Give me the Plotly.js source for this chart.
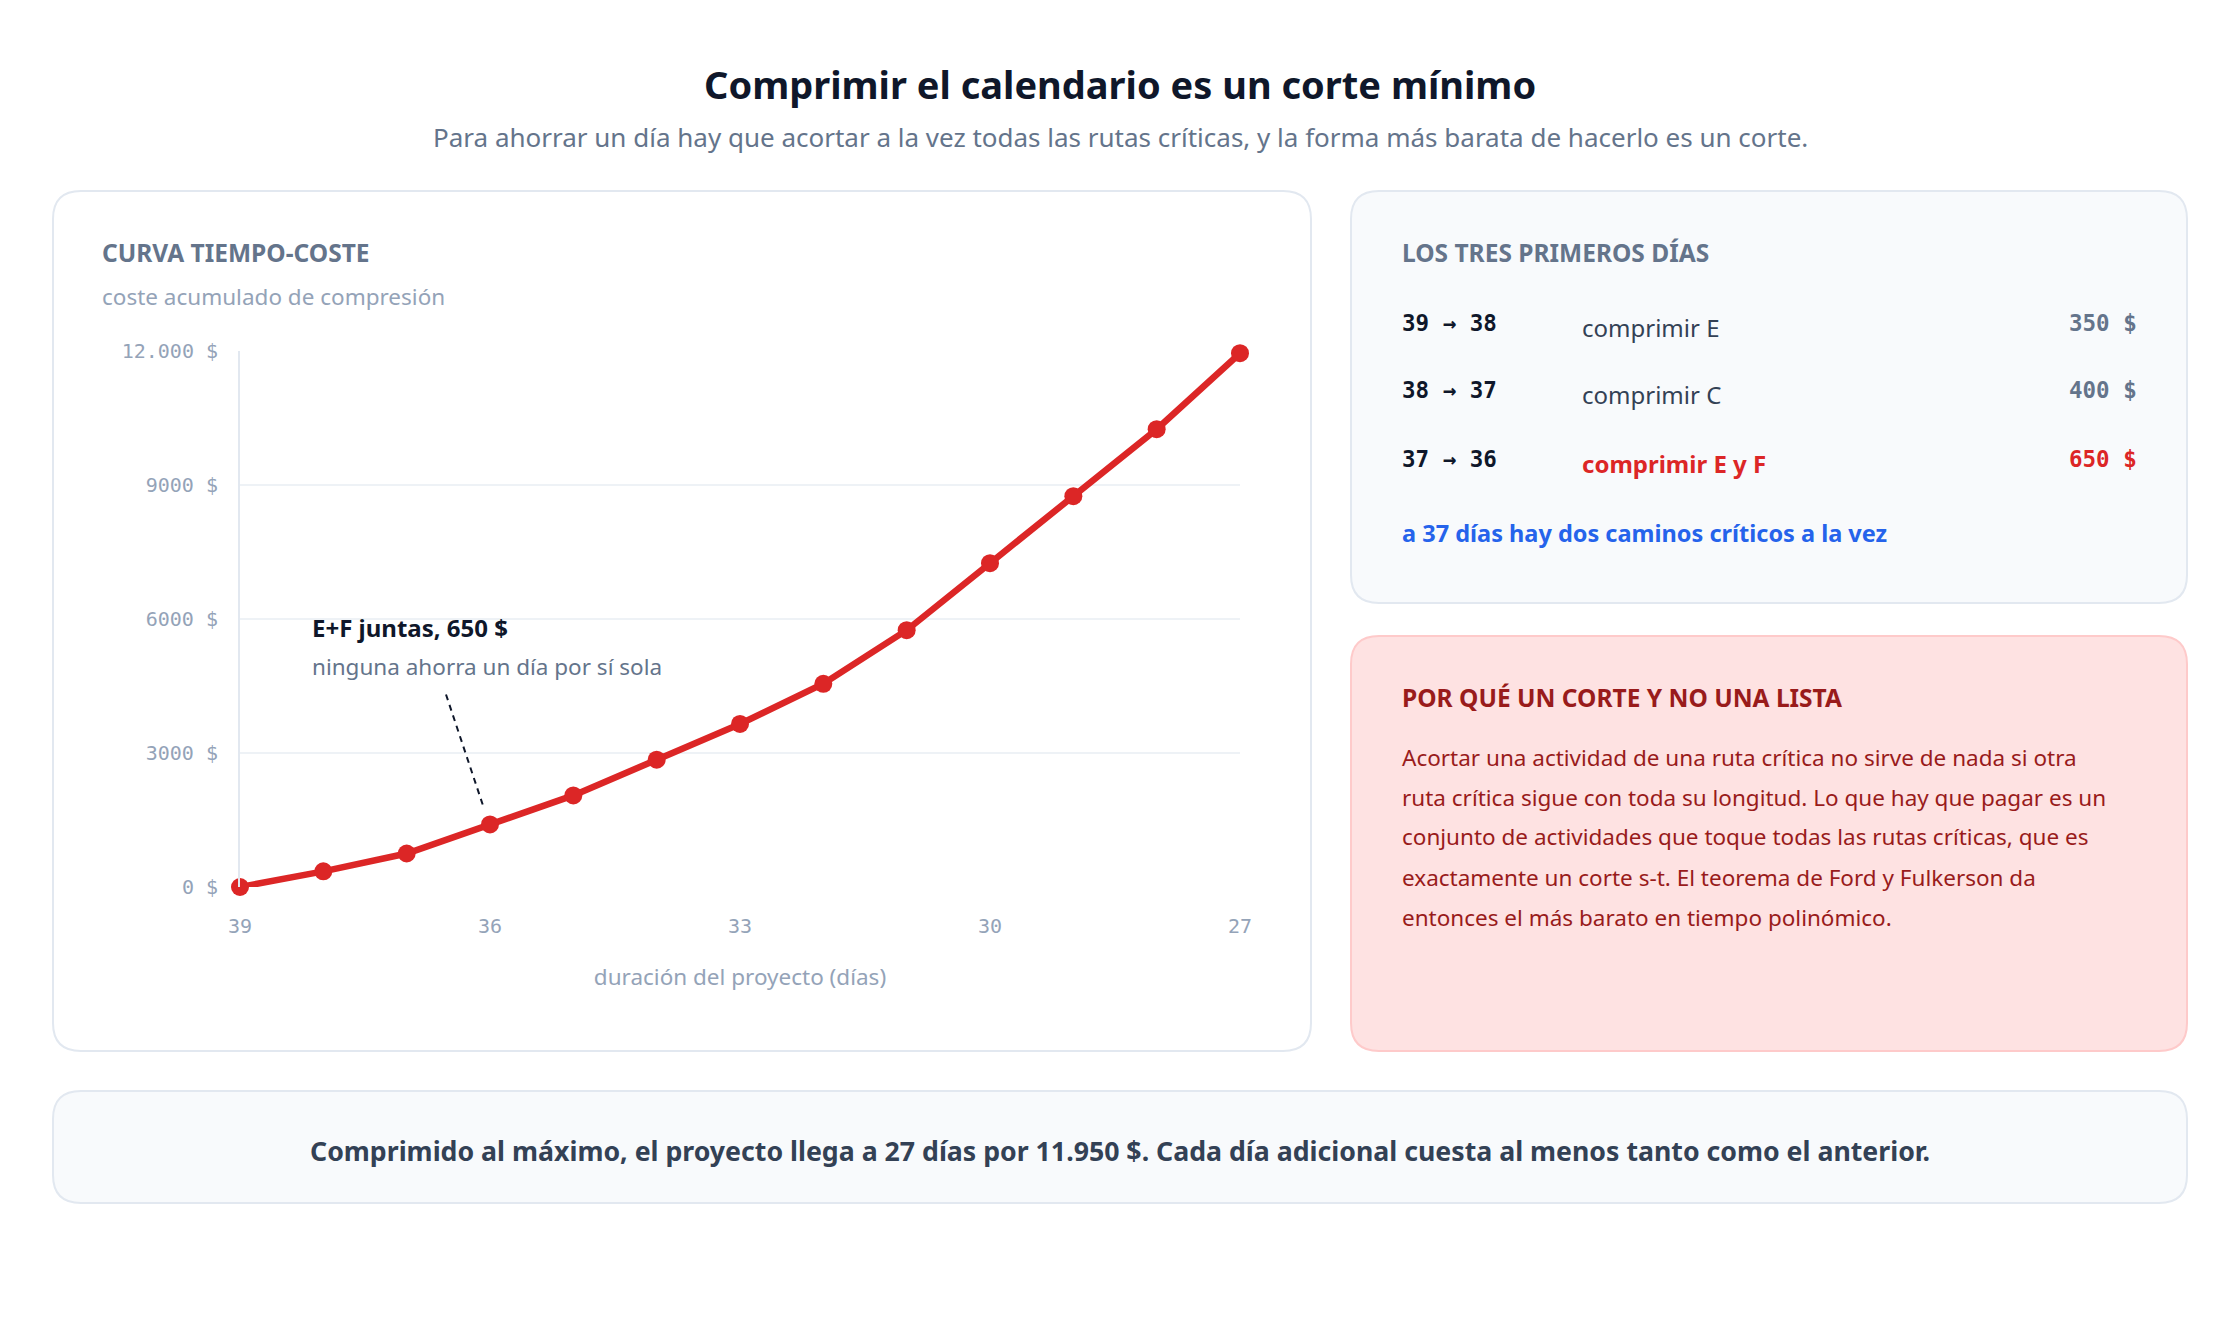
<!DOCTYPE html>
<html><head><meta charset="utf-8">
<script src="https://cdn.plot.ly/plotly-3.0.1.min.js"></script>
<style>html,body{margin:0;padding:0;background:#fff}#chart{width:2240px;height:1320px}</style>
</head><body><div id="chart"></div>
<script>
// ---- data ----
const days = [39,38,37,36,35,34,33,32,31,30,29,28,27];
const cumCost = [0,350,750,1400,2050,2850,3650,4550,5750,7250,8750,10250,11950];
const xTickVals = [39,36,33,30,27];
const yTickVals = [0,3000,6000,9000,12000];
const yTickText = ['0 $','3000 $','6000 $','9000 $','12.000 $'];
const stepLabels = ['39 → 38','38 → 37','37 → 36'];
const stepActions = ['comprimir E','comprimir C','comprimir E y F'];
const stepCosts = ['350 $','400 $','650 $'];
const paragraphLines = [
 'Acortar una actividad de una ruta crítica no sirve de nada si otra',
 'ruta crítica sigue con toda su longitud. Lo que hay que pagar es un',
 'conjunto de actividades que toque todas las rutas críticas, que es',
 'exactamente un corte s-t. El teorema de Ford y Fulkerson da',
 'entonces el más barato en tiempo polinómico.'
];
const highlightDay = 36;

// ---- helpers ----
const W = 2240, H = 1320;
const px = x => x / W;
const py = y => 1 - y / H;
const SANS = '"Noto Sans", "Open Sans", sans-serif';
const MONO = '"DejaVu Sans Mono", monospace';

function roundRect(x0, y0, x1, y1, r, fill, stroke) {
  const X = v => px(v), Y = v => py(v);
  const p = `M${X(x0+r)},${Y(y0)} L${X(x1-r)},${Y(y0)} Q${X(x1)},${Y(y0)} ${X(x1)},${Y(y0+r)} ` +
            `L${X(x1)},${Y(y1-r)} Q${X(x1)},${Y(y1)} ${X(x1-r)},${Y(y1)} ` +
            `L${X(x0+r)},${Y(y1)} Q${X(x0)},${Y(y1)} ${X(x0)},${Y(y1-r)} ` +
            `L${X(x0)},${Y(y0+r)} Q${X(x0)},${Y(y0)} ${X(x0+r)},${Y(y0)} Z`;
  return {type:'path', xref:'paper', yref:'paper', path:p, fillcolor:fill,
          line:{color:stroke, width:2}, layer:'below'};
}

function txt(x, y, text, size, color, opts) {
  return Object.assign({xref:'paper', yref:'paper', x:px(x), y:py(y), text:text,
    showarrow:false, xanchor:'left', yanchor:'middle',
    font:{family:SANS, size:size, color:color}}, opts || {});
}

const annotations = [
  txt(1120, 84, '<b>Comprimir el calendario es un corte mínimo</b>', 38, '#0f172a', {xanchor:'center'}),
  txt(1120, 137, 'Para ahorrar un día hay que acortar a la vez todas las rutas críticas, y la forma más barata de hacerlo es un corte.', 26, '#64748b', {xanchor:'center'}),
  txt(100, 253, '<b>CURVA TIEMPO-COSTE</b>', 24.5, '#64748b'),
  txt(100, 296, 'coste acumulado de compresión', 22.5, '#94a3b8'),
  txt(310, 627, '<b>E+F juntas, 650 $</b>', 24, '#0f172a'),
  txt(310, 667, 'ninguna ahorra un día por sí sola', 22.5, '#64748b'),
  txt(1400, 253, '<b>LOS TRES PRIMEROS DÍAS</b>', 24.5, '#64748b'),
  txt(1400, 533, '<b>a 37 días hay dos caminos críticos a la vez</b>', 23.5, '#2563eb'),
  txt(1400, 697, '<b>POR QUÉ UN CORTE Y NO UNA LISTA</b>', 24.5, '#991b1b'),
  txt(1120, 1150, '<b>Comprimido al máximo, el proyecto llega a 27 días por 11.950 $. Cada día adicional cuesta al menos tanto como el anterior.</b>', 26.7, '#334155', {xanchor:'center'})
];
const rowY = [323, 390, 459];
stepLabels.forEach((s, i) => {
  const hot = i === 2;
  annotations.push(txt(1400, rowY[i], '<b>' + s + '</b>', 22.5, '#0f172a', {font:{family:MONO, size:22.5, color:'#0f172a'}}));
  annotations.push(txt(1580, rowY[i] + 4, hot ? '<b>' + stepActions[i] + '</b>' : stepActions[i], 24, hot ? '#dc2626' : '#334155'));
  annotations.push(txt(2139, rowY[i], '<b>' + stepCosts[i] + '</b>', 22.5, hot ? '#dc2626' : '#64748b', {xanchor:'right', font:{family:MONO, size:22.5, color: hot ? '#dc2626' : '#64748b'}}));
});
paragraphLines.forEach((l, i) => {
  annotations.push(txt(1400, 757 + i * 40, l, 22.5, '#991b1b'));
});

const shapes = [
  roundRect(53, 191, 1311, 1051, 28, '#ffffff', '#e2e8f0'),
  roundRect(1351, 191, 2187, 603, 28, '#f8fafc', '#e2e8f0'),
  roundRect(1351, 636, 2187, 1051, 28, '#fee2e2', '#fecaca'),
  roundRect(53, 1091, 2187, 1203, 28, '#f8fafc', '#e2e8f0'),
  {type:'line', xref:'x', yref:'y', xsizemode:'pixel', ysizemode:'pixel',
   xanchor:highlightDay, yanchor:cumCost[days.indexOf(highlightDay)],
   x0:-44, x1:-6, y0:130, y1:16,
   line:{color:'#0f172a', width:2, dash:'6px,5px'}, layer:'above'}
];

const trace = {
  x: days, y: cumCost, type:'scatter', mode:'lines+markers',
  line:{color:'#dc2626', width:6.5},
  marker:{color:'#dc2626', size:18},
  cliponaxis:false, hoverinfo:'skip', showlegend:false
};

const layout = {
  width: W, height: H,
  margin:{l:0, r:0, t:0, b:0, pad:0},
  paper_bgcolor:'#ffffff', plot_bgcolor:'rgba(0,0,0,0)',
  font:{family:SANS},
  showlegend:false,
  xaxis:{
    domain:[px(240), px(1240)], range:[39, 27], autorange:false,
    tickvals:xTickVals, showgrid:false, zeroline:false, showline:false, ticks:'',
    tickfont:{family:MONO, size:20, color:'#94a3b8'}, ticklabelstandoff:25,
    title:{text:'duración del proyecto (días)', font:{family:SANS, size:22.5, color:'#94a3b8'}, standoff:32},
    fixedrange:true
  },
  yaxis:{
    domain:[py(887), py(351)], range:[0, 12000], autorange:false,
    tickvals:yTickVals, ticktext:yTickText, showgrid:true, gridcolor:'#eef2f6', gridwidth:2,
    zeroline:false, showline:true, linecolor:'#e2e8f0', linewidth:2, ticks:'',
    tickfont:{family:MONO, size:20, color:'#94a3b8'}, ticklabelstandoff:16,
    fixedrange:true
  },
  shapes: shapes,
  annotations: annotations
};

Plotly.newPlot('chart', [trace], layout, {displayModeBar:false, staticPlot:true});
</script>
</body></html>
